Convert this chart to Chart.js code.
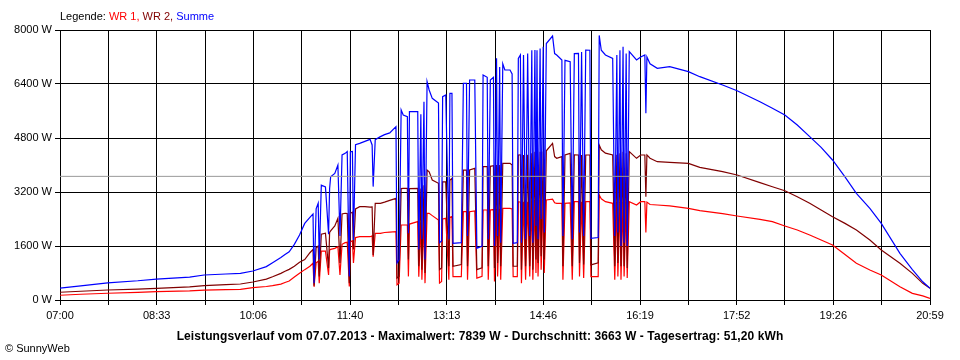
<!DOCTYPE html>
<html lang="de">
<head>
<meta charset="UTF-8">
<title>Leistungsverlauf 07.07.2013</title>
<script src="https://cdn.jsdelivr.net/npm/chart.js"></script>
<style>
  body { margin: 0; background: #fff; }
  #wrap { position: relative; width: 960px; height: 360px; font-family: "Liberation Sans", Arial, sans-serif; font-size: 11px; color: #000; }
  #leistung { display: block; }
  #legende { position: absolute; left: 60px; top: 10px; white-space: nowrap; }
  #titel { position: absolute; left: 0; width: 960px; top: 329px; text-align: center; font-weight: bold; font-size: 12px; letter-spacing: 0.1px; white-space: nowrap; }
  #copy { position: absolute; left: 5px; top: 342px; }
</style>
</head>
<body>
<div id="wrap">
  <canvas id="leistung" width="960" height="360"></canvas>
  <div id="legende">Legende: <span style="color:#ff0000">WR 1,</span> <span style="color:#800000">WR 2,</span> <span style="color:#0000ff">Summe</span></div>
  <div id="titel">Leistungsverlauf vom 07.07.2013 - Maximalwert: 7839 W - Durchschnitt: 3663 W - Tagesertrag: 51,20 kWh</div>
  <div id="copy">&copy; SunnyWeb</div>
</div>

<script>
// Uhrzeiten der Messpunkte
const times = [
  '07:00','07:20','07:46','08:15','08:33','09:05','09:19','09:40','09:54','10:06',
  '10:19','10:25','10:33','10:37','10:41','10:46','10:51','10:56','11:01','11:04',
  '11:05','11:07','11:09','11:10','11:12','11:16','11:19','11:20','11:21','11:25',
  '11:28','11:30','11:32','11:35','11:37','11:39','11:40','11:42','11:43','11:45',
  '11:49','11:54','11:59','12:01','12:02','12:04','12:09','12:13','12:18','12:24',
  '12:25','12:27','12:29','12:31','12:35','12:36','12:37','12:45','12:46','12:48',
  '12:49','12:51','12:52','12:54','12:56','12:59','13:05','13:06','13:08','13:09',
  '13:12','13:15','13:16','13:18','13:19','13:27','13:29','13:32','13:33','13:35',
  '13:40','13:42','13:47','13:48','13:52','13:53','13:55','13:58','13:59','14:01',
  '14:02','14:04','14:05','14:07','14:09','14:14','14:16','14:17','14:21','14:22',
  '14:24','14:25','14:27','14:29','14:31','14:33','14:35','14:36','14:38','14:39',
  '14:40','14:41','14:43','14:44','14:46','14:47','14:49','14:55','14:57','14:59',
  '15:04','15:05','15:07','15:12','15:14','15:16','15:20','15:21','15:23','15:25',
  '15:27','15:31','15:32','15:39','15:40','15:42','15:46','15:53','15:55','15:57',
  '15:58','16:00','16:01','16:03','16:04','16:06','16:07','16:09','16:16','16:20',
  '16:24','16:25','16:26','16:29','16:36','16:48','17:06','17:17','17:39','17:53',
  '18:15','18:27','18:39','18:51','19:03','19:14','19:25','19:37','19:48','20:01',
  '20:12','20:30','20:42','20:52','20:59'
];

// WR 1 (W)
const wr1 = [
  140,170,200,225,250,270,290,305,316,365,
  400,425,470,520,563,680,790,900,1000,1090,
  390,1100,1150,500,1450,1450,740,1480,1500,1530,
  1580,740,1650,1700,1710,400,1728,1750,1100,1850,
  1876,1880,1876,1900,1283,1975,1975,2000,2010,2025,
  450,500,2222,2222,2222,700,2250,2321,690,2300,
  600,2400,500,2568,2568,2500,2370,500,550,2400,
  2420,600,2450,2469,690,690,2617,2617,600,2617,
  2640,650,700,2667,2667,600,2667,2680,550,2700,
  700,2700,600,2716,2716,2716,2700,690,690,2913,
  2900,500,2913,600,2913,700,2950,600,2963,800,
  2963,700,2963,900,2963,800,2963,2990,2880,2864,
  2864,600,2864,2880,600,2913,2913,700,2913,650,
  2913,2913,690,690,3111,3000,2913,2864,600,2900,
  700,2913,600,2913,700,2900,650,2913,2815,2913,
  2913,2000,2900,2830,2815,2790,2716,2647,2560,2489,
  2390,2321,2193,2074,1926,1778,1630,1350,1086,889,
  741,395,198,120,49
];

// WR 2 (W)
const wr2 = [
  230,260,296,320,347,390,425,455,474,533,
  620,690,790,850,908,1000,1116,1200,1400,1500,
  420,1550,1600,700,1950,1980,950,2000,2050,2193,
  2420,1100,2550,2570,2560,500,2570,2600,1500,2700,
  2765,2765,2750,2760,1333,2864,2864,2900,2950,3013,
  650,700,3300,3309,3309,1200,3300,3310,1000,3300,
  900,3400,800,3852,3800,3556,3457,900,950,3500,
  3500,1000,3550,3605,1000,1050,3850,3850,1000,3852,
  3900,900,950,3951,3951,1000,3960,3980,950,4000,
  1100,4000,1000,4050,4050,4050,4000,1000,1000,4296,
  4300,900,4296,1000,4300,1000,4350,900,4395,1200,
  4395,1100,4395,1300,4400,1200,4420,4642,4250,4198,
  4250,1000,4300,4345,1000,4300,4296,1100,4296,1050,
  4296,4296,1040,1100,4593,4450,4350,4296,1000,4300,
  1100,4350,1000,4395,1000,4350,950,4395,4198,4296,
  4296,3061,4300,4200,4098,4080,4050,3931,3802,3704,
  3476,3357,3239,3061,2864,2667,2469,2270,2074,1778,
  1481,1086,790,494,346
];

// Summe (W)
const summe = [
  350,420,510,570,620,680,740,770,790,860,
  990,1106,1260,1350,1430,1650,1926,2270,2450,2550,
  500,2700,2870,1200,3400,3350,1950,3300,3650,3750,
  4000,1900,4300,4345,4400,700,4394,4400,1780,4600,
  4642,4700,4760,4593,3360,4750,4840,4900,4950,5136,
  1100,1200,5630,5480,5432,1975,5580,5580,1500,5500,
  1800,5876,1200,6470,6222,5975,5837,1700,1750,6025,
  6074,1800,6123,6123,1680,1700,6420,6420,1900,6518,
  6518,1531,1600,6667,6600,1800,6518,6600,1600,7160,
  1900,6900,1700,7000,6815,6815,6700,1680,1700,7160,
  7260,1700,7260,1800,7300,1900,7400,1700,7407,2200,
  7400,1800,7450,2400,7506,2000,7600,7822,7300,7260,
  7110,1900,7100,7061,1800,7300,7309,2000,7350,1900,
  7407,7400,1827,1850,7839,7400,7260,7160,1900,7260,
  2000,7400,1600,7506,1700,7300,1600,7358,7111,7200,
  7259,5531,7200,7000,6864,6914,6765,6617,6370,6202,
  5876,5680,5481,5185,4839,4523,4148,3650,3161,2716,
  2272,1383,900,540,346
];

const durchschnitt = 3663;

const xTickLabels = ['07:00','08:33','10:06','11:40','13:13','14:46','16:19','17:52','19:26','20:59'];
const yTicks = [0, 1600, 3200, 4800, 6400, 8000];

const xMin = 7 * 60;
const xMax = 20 * 60 + 59;

function toMin(s) {
  const p = s.split(':');
  return Number(p[0]) * 60 + Number(p[1]);
}

function punkte(werte) {
  return times.map((t, i) => ({ x: toMin(t), y: werte[i] }));
}

const schrift = { family: '"Liberation Sans", Arial, sans-serif', size: 11 };

const ctx = document.getElementById('leistung').getContext('2d');

new Chart(ctx, {
  type: 'line',
  data: {
    datasets: [
      {
        label: 'Durchschnitt',
        data: [{ x: xMin, y: durchschnitt }, { x: xMax, y: durchschnitt }],
        borderColor: '#999999',
        borderWidth: 1
      },
      { label: 'Summe', data: punkte(summe), borderColor: '#0000ff', borderWidth: 1.2 },
      { label: 'WR 2', data: punkte(wr2), borderColor: '#800000', borderWidth: 1.2 },
      { label: 'WR 1', data: punkte(wr1), borderColor: '#ff0000', borderWidth: 1.2 }
    ]
  },
  options: {
    responsive: false,
    animation: false,
    layout: { padding: { top: 30, right: 30, left: 0, bottom: 0 } },
    elements: { point: { radius: 0 }, line: { tension: 0 } },
    plugins: { legend: { display: false }, tooltip: { enabled: false } },
    scales: {
      x: {
        type: 'linear',
        min: xMin,
        max: xMax,
        afterBuildTicks: scale => {
          const t = [];
          for (let i = 0; i <= 18; i++) t.push({ value: xMin + i * (xMax - xMin) / 18 });
          scale.ticks = t;
        },
        afterFit: scale => { scale.height = 60; },
        grid: { color: '#000', lineWidth: 1, tickLength: 5 },
        border: { color: '#000' },
        ticks: {
          autoSkip: false,
          maxRotation: 0,
          padding: 4,
          color: '#000',
          font: schrift,
          callback: (v, i) => (i % 2 === 0 ? xTickLabels[i / 2] : '')
        }
      },
      y: {
        min: 0,
        max: 8000,
        afterBuildTicks: scale => { scale.ticks = yTicks.map(v => ({ value: v })); },
        afterFit: scale => { scale.width = 60; },
        grid: { color: '#000', lineWidth: 1, tickLength: 5 },
        border: { color: '#000' },
        ticks: {
          padding: 3,
          color: '#000',
          font: schrift,
          callback: v => v + ' W'
        }
      }
    }
  }
});
</script>
</body>
</html>
